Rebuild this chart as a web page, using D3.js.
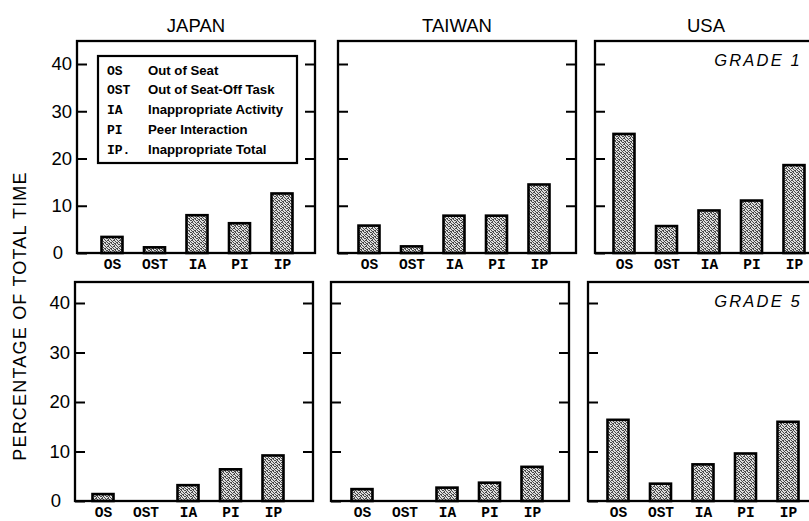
<!DOCTYPE html>
<html>
<head>
<meta charset="utf-8">
<script src="https://cdn.jsdelivr.net/npm/d3@7"></script>
<style>
  html, body { margin: 0; padding: 0; background: #fff; }
  svg { display: block; }
</style>
</head>
<body>
<svg id="chart" width="809" height="521"></svg>
<script>
// Behaviour categories along each x axis
const categories = ["OS", "OST", "IA", "PI", "IP"];
const countries = ["JAPAN", "TAIWAN", "USA"];
const gradeLabels = ["GRADE 1", "GRADE 5"];
const yTickValues = [0, 10, 20, 30, 40];

// Percentage of total time, grade 1
const japanGrade1 = [3.4, 1.2, 8.0, 6.3, 12.6];
const taiwanGrade1 = [5.8, 1.4, 7.9, 7.9, 14.5];
const usaGrade1 = [25.2, 5.7, 9.0, 11.1, 18.6];

// Percentage of total time, grade 5
const japanGrade5 = [1.4, 0, 3.2, 6.4, 9.2];
const taiwanGrade5 = [2.4, 0, 2.7, 3.7, 6.9];
const usaGrade5 = [16.4, 3.5, 7.4, 9.6, 16.0];

// Legend key
const legendCodes = ["OS", "OST", "IA", "PI", "IP."];
const legendNames = ["Out of Seat", "Out of Seat-Off Task", "Inappropriate Activity",
                     "Peer Interaction", "Inappropriate Total"];

const rowsData = [
  [japanGrade1, taiwanGrade1, usaGrade1],
  [japanGrade5, taiwanGrade5, usaGrade5]
];

// Panel geometry
const rows = [
  { top: 41, base: 253, y40: 64, lefts: [77, 338, 595], first: [112, 369, 624] },
  { top: 282, base: 501, y40: 303, lefts: [75, 331, 588], first: [103, 362, 618] }
];
const panelW = 238;
const span = 170;
const barW = 21;
const tickLen = 10;

const svg = d3.select("#chart");

// Fine grained stipple fill for the bars
const defs = svg.append("defs");
const pat = defs.append("pattern")
  .attr("id", "stipple").attr("patternUnits", "userSpaceOnUse")
  .attr("width", 6).attr("height", 6);
pat.append("rect").attr("width", 6).attr("height", 6).attr("fill", "#dedede");
const grain = [[0,0],[3,0],[5,0],[1,1],[4,1],[2,2],[5,2],[0,3],[3,3],
               [1,4],[4,4],[5,4],[2,5],[0,5],[3,2],[1,3]];
grain.forEach(([px, py]) => {
  pat.append("rect").attr("x", px).attr("y", py).attr("width", 1).attr("height", 1).attr("fill", "#4a4a4a");
});

const sans = "'Liberation Sans', Arial, sans-serif";
const mono = "'Liberation Mono', 'DejaVu Sans Mono', monospace";

rows.forEach((row, ri) => {
  const y = d3.scaleLinear().domain([0, 40]).range([row.base, row.y40]);
  row.lefts.forEach((left, ci) => {
    const right = left + panelW;
    const x = d3.scalePoint().domain(categories).range([row.first[ci], row.first[ci] + span]);
    const g = svg.append("g");

    // Bars
    g.selectAll("rect.bar")
      .data(rowsData[ri][ci].map((v, i) => ({ cat: categories[i], v })))
      .join("rect")
      .attr("class", "bar")
      .attr("x", d => x(d.cat) - barW / 2)
      .attr("y", d => y(d.v))
      .attr("width", barW)
      .attr("height", d => y(0) - y(d.v))
      .attr("fill", "url(#stipple)")
      .attr("stroke", "#000")
      .attr("stroke-width", 2.6);

    // Left axis: inward ticks, numbers only on the first column
    const leftAxis = d3.axisLeft(y).tickValues(yTickValues)
      .tickSize(-tickLen).tickPadding(5)
      .tickFormat(ci === 0 ? d3.format("d") : () => "");
    const la = g.append("g").attr("transform", `translate(${left},0)`).call(leftAxis);
    la.select(".domain").remove();
    la.selectAll(".tick line").attr("stroke", "#000").attr("stroke-width", 2);
    la.selectAll(".tick text").attr("font-family", sans).attr("font-size", 18.5).attr("fill", "#000")
      .attr("dx", d => d === 0 ? -9 : 0);

    // Right axis: inward ticks
    const ra = g.append("g").attr("transform", `translate(${right},0)`)
      .call(d3.axisRight(y).tickValues(yTickValues.slice(1)).tickSize(-tickLen).tickFormat(() => ""));
    ra.select(".domain").remove();
    ra.selectAll(".tick line").attr("stroke", "#000").attr("stroke-width", 2);

    // Category labels along the baseline
    const xa = g.append("g").attr("transform", `translate(0,${row.base})`)
      .call(d3.axisBottom(x).tickSize(0).tickPadding(6));
    xa.select(".domain").remove();
    xa.selectAll(".tick text").attr("font-family", mono).attr("font-weight", "bold")
      .attr("font-size", 14.5).attr("fill", "#000");

    // Frame
    g.append("rect")
      .attr("x", left).attr("y", row.top)
      .attr("width", panelW).attr("height", row.base - row.top)
      .attr("fill", "none").attr("stroke", "#000").attr("stroke-width", 2.3);

    // Column titles
    if (ri === 0) {
      svg.append("text")
        .attr("x", left + panelW / 2 - (ci === 2 ? 8 : 0)).attr("y", 32)
        .attr("text-anchor", "middle")
        .attr("font-family", sans).attr("font-size", 18.5)
        .text(countries[ci]);
    }
    // Grade labels
    if (ci === 2) {
      svg.append("text")
        .attr("x", 802).attr("y", row.top + 25)
        .attr("text-anchor", "end")
        .attr("font-family", sans).attr("font-style", "italic")
        .attr("font-size", 16.5).attr("letter-spacing", 2.2)
        .text(gradeLabels[ri]);
    }
  });
});

// Y axis title
svg.append("text")
  .attr("transform", "translate(26,316) rotate(-90)")
  .attr("text-anchor", "middle")
  .attr("font-family", sans).attr("font-size", 18).attr("letter-spacing", 1.2)
  .text("PERCENTAGE OF TOTAL TIME");

// Legend box inside the first panel
const lg = svg.append("g");
lg.append("rect")
  .attr("x", 98).attr("y", 56).attr("width", 199).attr("height", 107)
  .attr("fill", "#fff").attr("stroke", "#000").attr("stroke-width", 2.2);
const rowY = d3.scalePoint().domain(d3.range(legendCodes.length)).range([70, 149]);
lg.selectAll("text.code")
  .data(legendCodes)
  .join("text")
  .attr("class", "code")
  .attr("x", 107).attr("y", (d, i) => rowY(i))
  .attr("dy", "0.35em")
  .attr("font-family", mono).attr("font-weight", "bold").attr("font-size", 13)
  .text(d => d);
lg.selectAll("text.name")
  .data(legendNames)
  .join("text")
  .attr("class", "name")
  .attr("x", 148).attr("y", (d, i) => rowY(i))
  .attr("dy", "0.35em")
  .attr("font-family", sans).attr("font-weight", "bold").attr("font-size", 13.2)
  .attr("textLength", null)
  .text(d => d);
</script>
</body>
</html>
